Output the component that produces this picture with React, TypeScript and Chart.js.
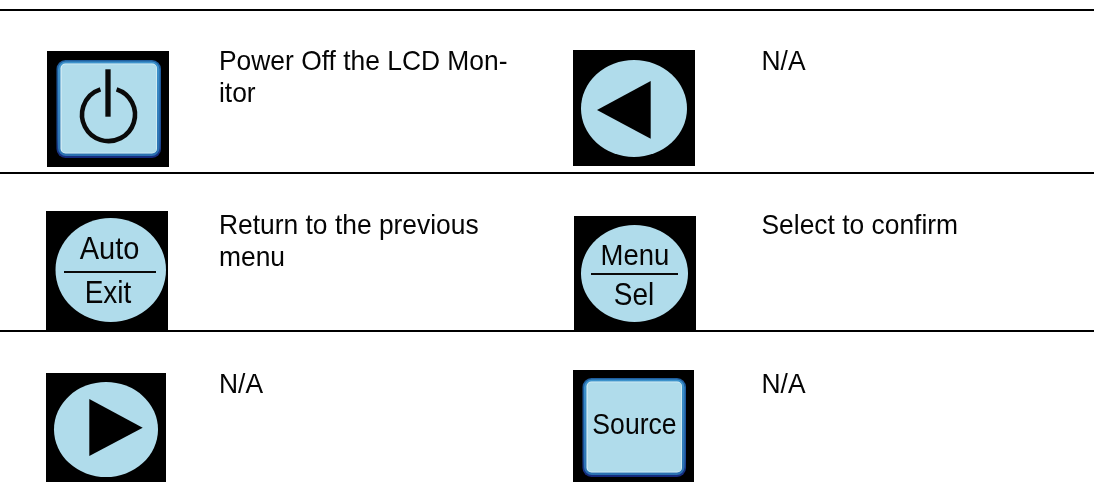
import React, { useEffect, useRef } from "react";
import { Chart, registerables } from "chart.js";

Chart.register(...registerables);

const WIDTH = 1094;
const HEIGHT = 482;
const FONT = '"Liberation Sans", Arial, sans-serif';

const ruleRows = [10, 173, 331];
const descriptions = [
  ["Power Off the LCD Mon-", "itor"],
  ["N/A"],
  ["Return to the previous", "menu"],
  ["Select to confirm"],
  ["N/A"],
  ["N/A"],
];
const upperKeyLabels = ["Auto", "Menu", "Source"];
const lowerKeyLabels = ["Exit", "Sel"];

const BLUE = "#b0dceb";

function roundedKey(c: CanvasRenderingContext2D, x0: number, y0: number, x1: number, y1: number) {
  const w = x1 - x0;
  const h = y1 - y0;
  const outer = c.createLinearGradient(0, y0, 0, y1);
  outer.addColorStop(0, "#1f5f9f");
  outer.addColorStop(0.8, "#1c4c98");
  outer.addColorStop(1, "#14277a");
  c.fillStyle = outer;
  c.beginPath();
  c.roundRect(x0, y0, w, h, 9);
  c.fill();
  const ring = c.createLinearGradient(0, y0, 0, y1);
  ring.addColorStop(0, "#3d93cc");
  ring.addColorStop(1, "#2a70b0");
  c.fillStyle = ring;
  c.beginPath();
  c.roundRect(x0 + 1.5, y0 + 1.5, w - 3, h - 3.5, 8);
  c.fill();
  c.fillStyle = "#e4f5f8";
  c.beginPath();
  c.roundRect(x0 + 4, y0 + 3.5, w - 8, h - 8, 5);
  c.fill();
  c.fillStyle = BLUE;
  c.beginPath();
  c.roundRect(x0 + 5, y0 + 4.3, w - 9.6, h - 9.6, 4);
  c.fill();
}

function disc(c: CanvasRenderingContext2D, x0: number, y0: number, x1: number, y1: number) {
  c.fillStyle = BLUE;
  c.beginPath();
  c.ellipse((x0 + x1) / 2, (y0 + y1) / 2, (x1 - x0) / 2, (y1 - y0) / 2, 0, 0, Math.PI * 2);
  c.fill();
}

function triangle(c: CanvasRenderingContext2D, pts: number[][]) {
  c.fillStyle = "#000";
  c.beginPath();
  pts.forEach(([x, y], i) => (i ? c.lineTo(x, y) : c.moveTo(x, y)));
  c.closePath();
  c.fill();
}

function label(
  c: CanvasRenderingContext2D,
  s: string,
  x: number,
  y: number,
  size: number,
  align: CanvasTextAlign,
  stretch: number
) {
  c.save();
  c.fillStyle = "#050505";
  c.font = `${size}px ${FONT}`;
  c.textAlign = align;
  c.textBaseline = "alphabetic";
  c.translate(x, y);
  c.scale(1, stretch);
  c.fillText(s, 0, 0);
  c.restore();
}

const tablePlugin = {
  id: "table",
  beforeDatasetsDraw(chart: any) {
    const c: CanvasRenderingContext2D = chart.ctx;
    const X = (v: number) => chart.scales.x.getPixelForValue(v);
    const Y = (v: number) => chart.scales.y.getPixelForValue(v);
    c.save();
    c.fillStyle = "#000";
    [
      [47, 51, 169, 167],
      [573, 50, 695, 166],
      [46, 211, 168, 331],
      [574, 216, 696, 331],
      [46, 373, 166, 482],
      [573, 370, 694, 482],
    ].forEach(([a, b, d, e]) => c.fillRect(X(a), Y(b), X(d) - X(a), Y(e) - Y(b)));

    // Power key
    roundedKey(c, X(56.5), Y(60), X(161), Y(158));
    c.strokeStyle = "#0a0a0a";
    c.lineWidth = 4.6;
    c.beginPath();
    c.arc(X(108.5), Y(114.6), 26.5, -Math.PI / 2 + 0.31, -Math.PI / 2 - 0.31);
    c.stroke();
    c.lineWidth = 5.3;
    c.beginPath();
    c.moveTo(X(108), Y(69.3));
    c.lineTo(X(108), Y(116.7));
    c.stroke();

    // Left arrow
    disc(c, X(581), Y(60), X(687), Y(157));
    triangle(c, [[X(597), Y(110)], [X(650.7), Y(81)], [X(650.7), Y(138.7)]]);

    // Auto / Exit
    disc(c, X(55.5), Y(218), X(166), Y(322));
    c.fillStyle = "#0a0a0a";
    c.fillRect(X(64), Y(271), X(156) - X(64), 2);
    label(c, upperKeyLabels[0], X(109.5), Y(259), 29, "center", 1.1);
    label(c, lowerKeyLabels[0], X(108), Y(303), 28, "center", 1.1);

    // Menu / Sel
    disc(c, X(581), Y(225), X(688), Y(322));
    c.fillStyle = "#0a0a0a";
    c.fillRect(X(591), Y(273), X(678) - X(591), 2);
    label(c, upperKeyLabels[1], X(635), Y(265), 27.5, "center", 1.1);
    label(c, lowerKeyLabels[1], X(634), Y(305), 28, "center", 1.1);

    // Right arrow
    disc(c, X(54), Y(382), X(158), Y(477));
    triangle(c, [[X(89.3), Y(399)], [X(89.3), Y(456)], [X(142.7), Y(427.7)]]);

    // Source
    roundedKey(c, X(582.5), Y(378), X(686), Y(477));
    label(c, upperKeyLabels[2], X(634.5), Y(434), 26.6, "center", 1.1);

    // Descriptions
    const cols = [219, 761.5];
    const rows = [69.5, 233.5, 392.5];
    descriptions.forEach((lines, i) => {
      lines.forEach((line, j) => {
        label(c, line, X(cols[i % 2]), Y(rows[Math.floor(i / 2)] + j * 32.4), 26.4, "left", 1.06);
      });
    });
    c.restore();
  },
};

export default function App() {
  const ref = useRef<HTMLCanvasElement>(null);
  useEffect(() => {
    const chart = new Chart(ref.current!, {
      type: "scatter",
      data: {
        datasets: ruleRows.map((y) => ({
          data: [
            { x: 0, y },
            { x: WIDTH, y },
          ],
          showLine: true,
          borderColor: "#000",
          borderWidth: 2,
          pointRadius: 0,
        })),
      },
      options: {
        animation: false,
        responsive: false,
        layout: { padding: 0 },
        plugins: { legend: { display: false }, tooltip: { enabled: false } },
        scales: {
          x: { type: "linear", display: false, min: 0, max: WIDTH },
          y: { type: "linear", display: false, reverse: true, min: 0, max: HEIGHT },
        },
      },
      plugins: [tablePlugin],
    });
    return () => chart.destroy();
  }, []);
  return (
    <canvas
      ref={ref}
      width={WIDTH}
      height={HEIGHT}
      style={{ position: "absolute", left: 0, top: 0, width: WIDTH, height: HEIGHT, display: "block" }}
    />
  );
}
